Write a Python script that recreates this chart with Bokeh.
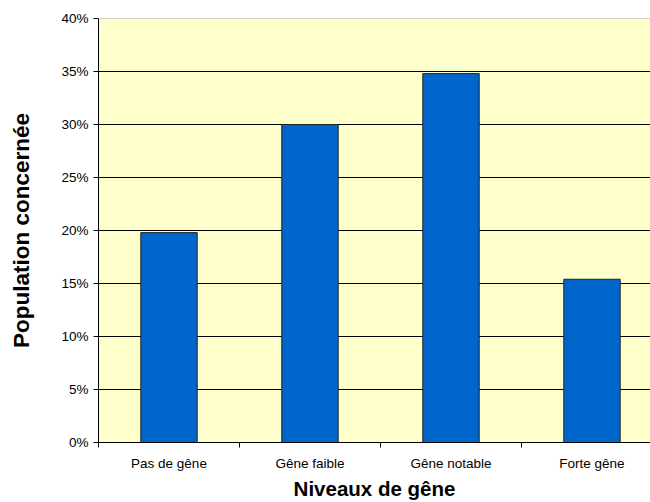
from bokeh.plotting import figure
from bokeh.models import ColumnDataSource, FixedTicker, PrintfTickFormatter, Range1d, Span
from bokeh.embed import file_html
from bokeh.resources import INLINE

# Share of the population for each level of nuisance (percent)
categories = ["Pas de gêne", "Gêne faible", "Gêne notable", "Forte gêne"]
population_pct = [19.8, 30.0, 34.8, 15.4]
y_ticks = [0, 5, 10, 15, 20, 25, 30, 35, 40]

FONT = "Liberation Sans"

centers = [i + 0.5 for i in range(len(categories))]
source = ColumnDataSource(data=dict(x=centers, top=population_pct, label=categories))

p = figure(
    width=650, height=502,
    x_range=Range1d(0, 3.915), y_range=Range1d(0, 40),
    output_backend="svg", toolbar_location=None,
    min_border_left=98, min_border_top=18, min_border_bottom=40, min_border_right=0,
)
p.background_fill_color = "#FFFFCC"
p.border_fill_color = "white"
p.outline_line_color = None

p.vbar(x="x", top="top", width=0.4, source=source,
       fill_color="#0066CC", line_color="#222222", line_width=1)

# horizontal gridlines every 5 %, top border in grey
p.xgrid.visible = False
p.ygrid.ticker = FixedTicker(ticks=y_ticks[1:-1])
p.ygrid.grid_line_color = "black"
p.ygrid.grid_line_width = 1
p.ygrid.level = "underlay"
p.add_layout(Span(location=40, dimension="width", line_color="#A8A8A8", line_width=1))

# y axis
ya = p.yaxis[0]
ya.ticker = FixedTicker(ticks=y_ticks)
ya.formatter = PrintfTickFormatter(format="%d%%")
ya.axis_line_color = "black"
ya.major_tick_out = 5
ya.major_tick_in = 0
ya.minor_tick_line_color = None
ya.major_label_standoff = 5
ya.major_label_text_font = FONT
ya.major_label_text_font_size = "13.5px"
ya.major_label_text_color = "black"
ya.axis_label = "Population concernée"
ya.axis_label_text_font = FONT
ya.axis_label_text_font_style = "bold"
ya.axis_label_text_font_size = "22.5px"
ya.axis_label_text_color = "black"
ya.axis_label_standoff = 24

# x axis: labels at category centres, tick marks between categories
xa = p.xaxis[0]
xa.ticker = FixedTicker(ticks=centers, minor_ticks=[0, 1, 2, 3])
xa.major_label_overrides = {c: lab for c, lab in zip(centers, categories)}
xa.axis_line_color = "black"
xa.major_tick_out = 0
xa.major_tick_in = 0
xa.minor_tick_out = 5
xa.minor_tick_in = 0
xa.minor_tick_line_color = "black"
xa.major_label_standoff = 8
xa.major_label_text_font = FONT
xa.major_label_text_font_size = "13.5px"
xa.major_label_text_color = "black"
xa.axis_label = "Niveaux de gêne"
xa.axis_label_text_font = FONT
xa.axis_label_text_font_style = "bold"
xa.axis_label_text_font_size = "20.5px"
xa.axis_label_text_color = "black"
xa.axis_label_standoff = 3

open("out.html", "w").write(file_html(p, INLINE))
